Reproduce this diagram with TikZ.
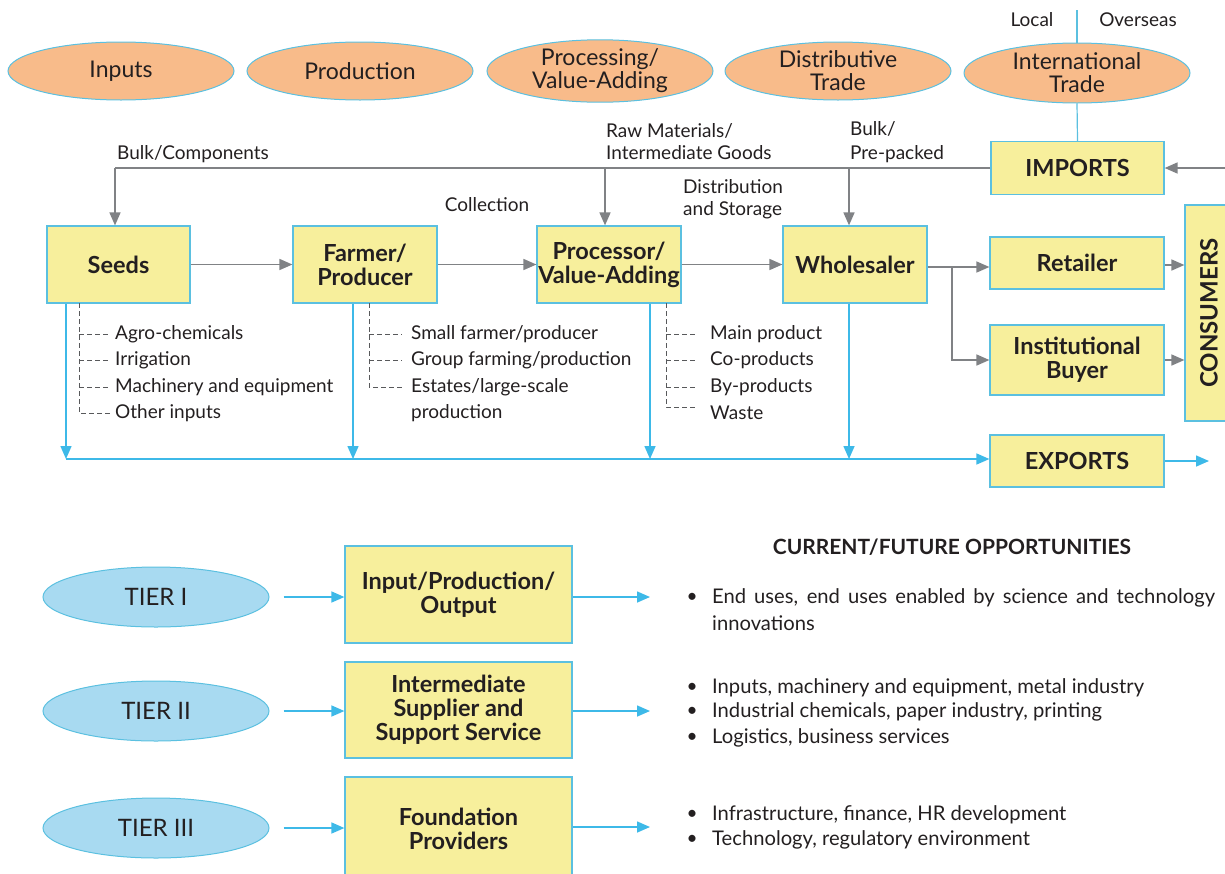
\documentclass[tikz,border=0pt]{standalone}
\usepackage{fontspec}
\setmainfont{Lato}
\usetikzlibrary{arrows.meta,shapes.geometric,calc}
\definecolor{peach}{HTML}{F8BB8A}
\definecolor{bordblue}{HTML}{5BC0E0}
\definecolor{boxyellow}{HTML}{F7EF9C}
\definecolor{lblue}{HTML}{A8DAF1}
\definecolor{arrgray}{HTML}{808285}
\definecolor{dashgray}{HTML}{58595B}
\definecolor{arrblue}{HTML}{3DB9E8}
\definecolor{ink}{HTML}{231F20}
\begin{document}
\begin{tikzpicture}[x=1pt,y=-1pt,
  stage/.style={ellipse, draw=bordblue, fill=peach, line width=1pt, minimum width=226pt, minimum height=58pt, inner sep=0pt, align=center, text=ink, font=\fontsize{23}{23}\selectfont},
  tier/.style={ellipse, draw=bordblue, fill=lblue, line width=1pt, minimum width=226pt, minimum height=60pt, inner sep=0pt, text=ink, font=\fontsize{24}{24}\selectfont},
  ybox/.style={draw=bordblue, fill=boxyellow, line width=1.2pt, align=center, inner sep=0pt, text=ink, font=\bfseries\fontsize{23.5}{24}\selectfont},
  tbox/.style={ybox, minimum width=227pt},
  lbl/.style={text=ink, inner sep=0pt, font=\fontsize{19}{22}\selectfont, align=left},
  item/.style={lbl, anchor=west},
  opt/.style={text=ink, inner sep=0pt, anchor=west, font=\fontsize{20.2}{24}\selectfont},
  garrow/.style={draw=arrgray, line width=1.6pt, -{Triangle[length=13pt,width=11pt]}},
  gline/.style={draw=arrgray, line width=1.6pt},
  barrow/.style={draw=arrblue, line width=1.5pt, -{Triangle[length=13pt,width=11pt]}},
  bline/.style={draw=arrblue, line width=1.5pt},
  dline/.style={draw=dashgray, line width=1pt, dash pattern=on 5pt off 3pt},
  vline/.style={draw=bordblue, line width=1.2pt}
]
\useasboundingbox (0,0) rectangle (1225,873);

% ---- stage ellipses
\node[stage] (inputs) at (121,71) {Inputs};
\node[stage] (production) at (360,71) {Production};
\node[stage] (processing) at (600,71) {Processing/\\Value-Adding};
\node[stage] (distrib) at (838,71) {Distributive\\Trade};
\node[stage, minimum height=60pt] (intl) at (1077,73) {International\\Trade};

\node[lbl] (local) at (1032,20) {Local};
\node[lbl] (overseas) at (1138,20) {Overseas};
\coordinate (topline) at (1077,10);

% ---- boxes
\node[ybox, minimum width=173pt, minimum height=53pt] (imports) at (1077.5,168) {IMPORTS};
\node[ybox, minimum width=143pt, minimum height=77pt] (seeds) at (118.5,264.5) {Seeds};
\node[ybox, minimum width=144pt, minimum height=77pt] (farmer) at (365,264.5) {Farmer/\\Producer};
\node[ybox, minimum width=144pt, minimum height=77pt] (proc) at (609,264.5) {Processor/\\Value-Adding};
\node[ybox, minimum width=144pt, minimum height=77pt] (whole) at (855,264.5) {Wholesaler};
\node[ybox, minimum width=174pt, minimum height=52pt] (retail) at (1077,263) {Retailer};
\node[ybox, minimum width=174pt, minimum height=70pt] (inst) at (1077,360) {Institutional\\Buyer};
\node[ybox, minimum width=56pt, minimum height=216pt] (cons) at (1213,313) {};
\node[text=ink, font=\bfseries\fontsize{24}{24}\selectfont, rotate=90, inner sep=0pt] (constext) at (1209,313) {CONSUMERS};
\node[ybox, minimum width=174pt, minimum height=52pt] (exports) at (1077,461) {EXPORTS};

% ---- international trade vertical line
\draw[vline] (topline) -- (intl.north);
\draw[vline] (intl.south) -- (imports.north);

% ---- imports supply line
\coordinate (impin) at (1225,168);
\coordinate (jl) at (115,168);
\coordinate (jp) at (605,168);
\coordinate (jw) at (849,168);
\draw[garrow] (impin) -- (imports.east);
\draw[gline] (imports.west) -- (jl);
\draw[garrow] (jl) -- (jl |- seeds.north);
\draw[garrow] (jp) -- (jp |- proc.north);
\draw[garrow] (jw) -- (jw |- whole.north);

\node[lbl, anchor=base west] (bulkcomp) at (117,159) {Bulk/Components};
\node[lbl, anchor=base west] (rawmat) at (606,137) {Raw Materials/};
\node[lbl, anchor=base west] (intgoods) at (606,159) {Intermediate Goods};
\node[lbl, anchor=base west] (bulk) at (850,135) {Bulk/};
\node[lbl, anchor=base west] (prepack) at (850,159) {Pre-packed};
\node[lbl, anchor=base] (collect) at (487,211) {Collection};
\node[lbl, anchor=base west] (distr1) at (683,193) {Distribution};
\node[lbl, anchor=base west] (distr2) at (683,215) {and Storage};

% ---- main chain
\draw[garrow] (seeds.east) -- (farmer.west);
\draw[garrow] (farmer.east) -- (proc.west);
\draw[garrow] (proc.east) -- (whole.west);
\coordinate (wj) at (952,267);
\draw[garrow] (whole.east |- wj) -- (retail.west |- wj);
\draw[garrow] (wj) |- (inst.west);
\draw[garrow] (retail.east |- 0,265) -- (cons.west |- 0,265);
\draw[garrow] (inst.east) -- (cons.west |- inst.east);

% ---- exports line
\coordinate (e1) at (66,459);
\coordinate (e2) at (353,459);
\coordinate (e3) at (650,459);
\coordinate (e4) at (849,459);
\coordinate (eout) at (1209,461);
\draw[barrow] (e1 |- seeds.south) -- (e1);
\draw[barrow] (e2 |- farmer.south) -- (e2);
\draw[barrow] (e3 |- proc.south) -- (e3);
\draw[barrow] (e4 |- whole.south) -- (e4);
\draw[bline] (e1) -- (e4);
\draw[barrow] (e4) -- (exports.west |- e4);
\draw[barrow] (exports.east) -- (eout);

% ---- sub-lists
\coordinate (s0) at (79,303);
\draw[dline] (s0) -- (79,413) -- (110,413);
\foreach \yy in {334,360,387} \draw[dline] (79,\yy) -- (110,\yy);
\node[item] (s1) at (115,334) {Agro-chemicals};
\node[item] (s2) at (115,360) {Irrigation};
\node[item] (s3) at (115,387) {Machinery and equipment};
\node[item] (s4) at (115,413) {Other inputs};

\coordinate (f0) at (369,303);
\draw[dline] (f0) -- (369,387) -- (402,387);
\foreach \yy in {334,360} \draw[dline] (369,\yy) -- (402,\yy);
\node[item] (f1) at (411,334) {Small farmer/producer};
\node[item] (f2) at (411,360) {Group farming/production};
\node[item] (f3) at (411,387) {Estates/large-scale};
\node[item] (f4) at (411,413) {production};

\coordinate (p0) at (666,303);
\draw[dline] (p0) -- (666,407) -- (697,407);
\foreach \yy in {334,360,387} \draw[dline] (666,\yy) -- (697,\yy);
\node[item] (p1) at (710,334) {Main product};
\node[item] (p2) at (710,360) {Co-products};
\node[item] (p3) at (710,387) {By-products};
\node[item] (p4) at (710,413) {Waste};

% ---- tiers
\node[tier] (t1) at (156,597) {TIER I};
\node[tier] (t2) at (156,711) {TIER II};
\node[tier] (t3) at (156,828) {TIER III};
\node[tbox, minimum height=97pt] (b1) at (458.5,594.5) {Input/Production/\\Output};
\node[tbox, minimum height=96pt] (b2) at (458.5,710) {Intermediate\\Supplier and\\Support Service};
\node[tbox, minimum height=104pt] (b3) at (458.5,829) {Foundation\\Providers};
\coordinate (o1) at (650,597);
\coordinate (o2) at (650,711);
\coordinate (o3) at (650,827);
\draw[barrow] ($(t1.east)+(14,0)$) -- (b1.west |- t1.east);
\draw[barrow] ($(t2.east)+(14,0)$) -- (b2.west |- t2.east);
\draw[barrow] ($(t3.east)+(14,0)$) -- (b3.west |- t3.east);
\draw[barrow] (b1.east |- o1) -- (o1);
\draw[barrow] (b2.east |- o2) -- (o2);
\draw[barrow] (b3.east |- o3) -- (o3);

\node[text=ink, font=\bfseries\fontsize{21}{22}\selectfont] (opp) at (952,547) {CURRENT/FUTURE OPPORTUNITIES};
\foreach \nm/\yy in {bu1/598, bu2/688, bu3/712, bu4/738, bu5/815, bu6/840}
  \node[lbl] (\nm) at (692,\yy) {•};
\node[opt] (o1a) at (712,598) {\makebox[503pt][s]{End uses, end uses enabled by science and technology}};
\node[opt] (o1b) at (712,623) {innovations};
\node[opt] (o2a) at (712,688) {Inputs, machinery and equipment, metal industry};
\node[opt] (o2b) at (712,712) {Industrial chemicals, paper industry, printing};
\node[opt] (o2c) at (712,738) {Logistics, business services};
\node[opt] (o3a) at (712,815) {Infrastructure, finance, HR development};
\node[opt] (o3b) at (712,840) {Technology, regulatory environment};
\end{tikzpicture}
\end{document}
